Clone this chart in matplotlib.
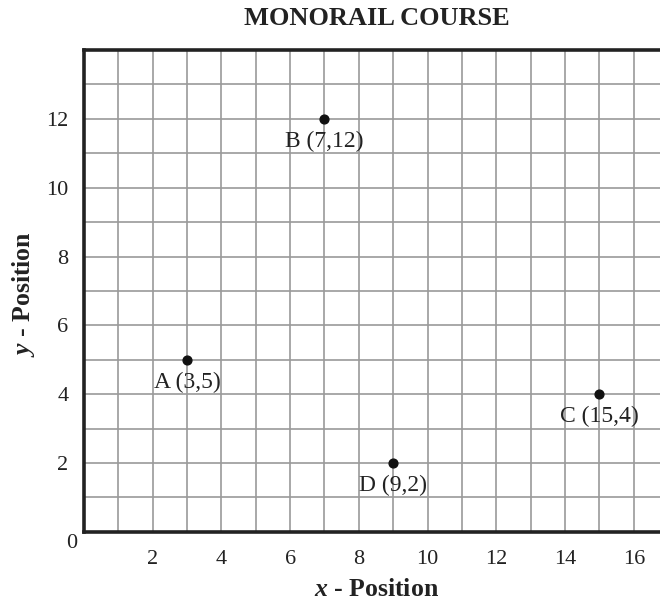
import matplotlib
matplotlib.use("Agg")
import matplotlib.pyplot as plt

plt.rcParams["font.family"] = ["Liberation Serif", "DejaVu Serif"]
plt.rcParams["mathtext.fontset"] = "custom"
plt.rcParams["mathtext.it"] = "Liberation Serif:italic:bold"
plt.rcParams["mathtext.rm"] = "Liberation Serif:bold"

names = ["A", "B", "C", "D"]
xs = [3, 7, 15, 9]
ys = [5, 12, 4, 2]
xticks = [2, 4, 6, 8, 10, 12, 14, 16]
yticks = [2, 4, 6, 8, 10, 12]

fig = plt.figure(figsize=(6.6, 6.03), dpi=100)
ax = fig.add_axes([0.127, 0.118, 0.873, 0.799])
ax.set_xlim(0, 16.76)
ax.set_ylim(0, 14)

# grid every unit
for gx in range(1, 17):
    ax.axvline(gx, color="#9a9a9a", lw=1.2, zorder=1)
for gy in range(1, 14):
    ax.axhline(gy, color="#9a9a9a", lw=1.2, zorder=1)

for s in ("left", "top", "bottom"):
    ax.spines[s].set_linewidth(2.6)
    ax.spines[s].set_color("#222222")
ax.spines["right"].set_visible(False)

ax.set_xticks(xticks)
ax.set_yticks(yticks)
ax.tick_params(length=0, labelsize=16, colors="#222222")
ax.tick_params(axis="x", pad=13)
ax.tick_params(axis="y", pad=11)
ax.text(-0.35, -0.35, "0", ha="center", va="center", fontsize=16,
        color="#222222", clip_on=False)

ax.scatter(xs, ys, s=40, color="#111111", zorder=3)
for n, x, y in zip(names, xs, ys):
    ax.annotate(f"{n} ({x},{y})", (x, y), xytext=(0, -16),
                textcoords="offset points", ha="center", va="center",
                fontsize=17, color="#222222")

fig.text(0.571, 0.97, "MONORAIL COURSE", ha="center", va="center",
         fontsize=19, fontweight="bold", color="#222222")
fig.text(0.571, 0.022, r"$x$ - Position", ha="center", va="center",
         fontsize=18.5, fontweight="bold", color="#222222")
fig.text(0.035, 0.513, r"$y$ - Position", ha="center", va="center",
         rotation=90, fontsize=18.5, fontweight="bold", color="#222222")

fig.savefig("out.png", dpi=100)
